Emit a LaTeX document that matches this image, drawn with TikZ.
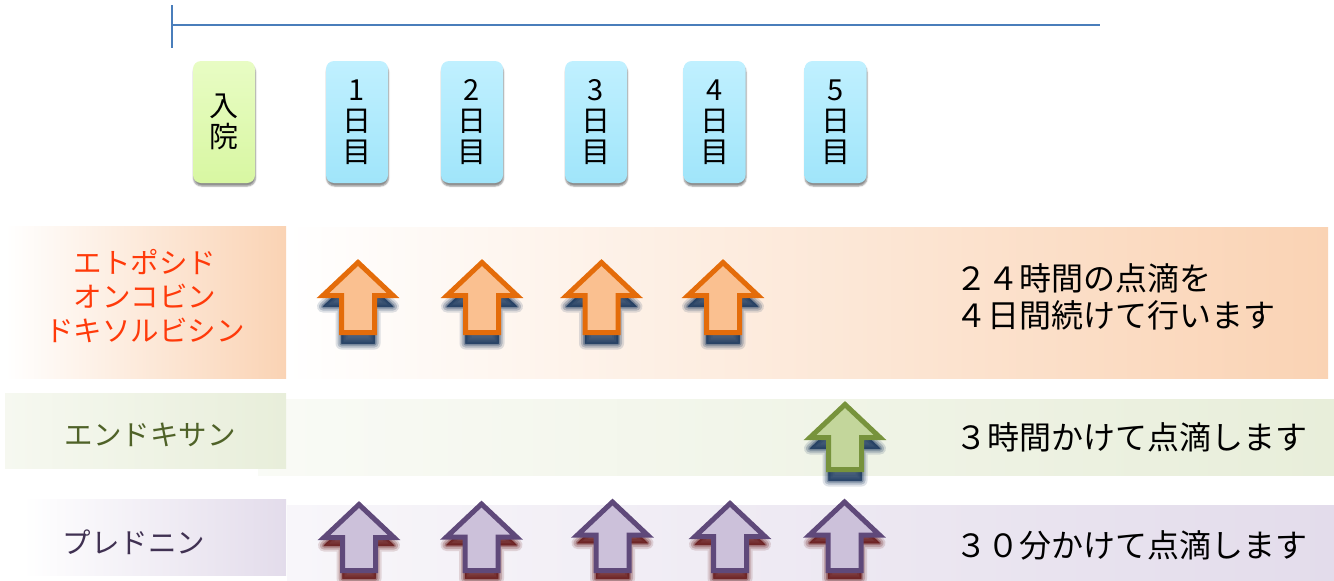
\documentclass[tikz,border=0pt]{standalone}
\usepackage{fontspec}
\setmainfont{Noto Sans CJK JP}
\usetikzlibrary{shadows.blur}
\definecolor{axisblue}{HTML}{4A7EBB}
\definecolor{orline}{HTML}{E46C0A}
\definecolor{orfill}{HTML}{FAC090}
\definecolor{grline}{HTML}{77933C}
\definecolor{grfill}{HTML}{C3D69B}
\definecolor{puline}{HTML}{5F497A}
\definecolor{pufill}{HTML}{CCC1DA}
\definecolor{navyshadow}{HTML}{15335A}
\definecolor{redshadow}{HTML}{641414}
\definecolor{orband}{HTML}{FAD3B4}
\definecolor{grband}{HTML}{E8EEDA}
\definecolor{puband}{HTML}{E3DCEB}
\definecolor{ortext}{HTML}{FF3A0A}
\definecolor{grtext}{HTML}{4F6228}
\definecolor{putext}{HTML}{403152}
\definecolor{boxgreenT}{HTML}{E8FCC4}
\definecolor{boxgreenB}{HTML}{D8F7A2}
\definecolor{boxblueT}{HTML}{C0F0FF}
\definecolor{boxblueB}{HTML}{A0E5FA}
% #1 x, #2 y of tip, #3 total length
\newcommand\arrshape[3]{(#1,#2) -- ++(35,33) -- ++(-18.5,0) -- ++(0,#3-33) -- ++(-33,0) -- ++(0,33-#3) -- ++(-18.5,0) -- cycle}
% #1 style, #2 shadow colour, #3 x, #4 y (tip), #5 shadow shift, #6 length
\newcommand\uparr[6]{%
  \foreach \w/\o in {12/0.14,8/0.22,4/0.32,1/0.5}{%
    \path[fill=#2, draw=#2, line width=\w pt, opacity=\o, line join=round] \arrshape{#3}{#4+#5}{#6};}%
  \draw[#1] \arrshape{#3}{#4}{#6};}
\tikzset{
  daybox/.style={rounded corners=8pt, minimum width=62pt, minimum height=122pt, inner sep=0pt, align=center,
    font=\fontsize{29}{31}\selectfont,
    blur shadow={shadow xshift=0.5pt, shadow yshift=-3pt, shadow blur radius=1.5pt, shadow opacity=45}},
  band/.style={anchor=north west, inner sep=0pt},
  lbl/.style={font=\fontsize{28.5}{34}\selectfont, align=center, inner sep=0pt},
  rtxt/.style={font=\fontsize{32}{36.5}\selectfont, align=left, anchor=west, inner sep=0pt},
  orarrow/.style={draw=orline, fill=orfill, line width=5pt, miter limit=10},
  grarrow/.style={draw=grline, fill=grfill, line width=5pt, miter limit=10},
  puarrow/.style={draw=puline, fill=pufill, line width=5pt, miter limit=10},
}
\begin{document}
\begin{tikzpicture}[x=1pt,y=-1pt]
\useasboundingbox (0,0) rectangle (1334,581);
% time axis
\coordinate (axL) at (172,25);
\coordinate (axR) at (1100,25);
\coordinate (tkT) at (172,5);
\coordinate (tkB) at (172,48);
\draw[axisblue, line width=2pt] (axL) -- (axR);
\draw[axisblue, line width=2pt] (tkT) -- (tkB);
% day boxes
\node[daybox, top color=boxgreenT, bottom color=boxgreenB] (d0) at (224,122) {入\\院};
\node[daybox, top color=boxblueT, bottom color=boxblueB] (d1) at (357,122) {1\\日\\目};
\node[daybox, top color=boxblueT, bottom color=boxblueB] (d2) at (472,122) {2\\日\\目};
\node[daybox, top color=boxblueT, bottom color=boxblueB] (d3) at (596,122) {3\\日\\目};
\node[daybox, top color=boxblueT, bottom color=boxblueB] (d4) at (714.5,122) {4\\日\\目};
\node[daybox, top color=boxblueT, bottom color=boxblueB] (d5) at (835.5,122) {5\\日\\目};
% orange band
\node[band, left color=white, right color=orband, minimum width=1042pt, minimum height=151pt] (ob) at (286,227) {};
\node[band, left color=white, right color=orband, minimum width=281pt, minimum height=152pt] (obl) at (5,226) {};
\node[lbl, text=ortext] (olab) at (145,296) {エトポシド\\オンコビン\\ドキソルビシン};
\node[rtxt] (otxt) at (955,297) {２４時間の点滴を\\４日間続けて行います};
% green band
\node[band, left color=white!75!grband, right color=grband, minimum width=1076pt, minimum height=76pt] (gb) at (258,399) {};
\node[band, left color=white!60!grband, right color=grband, minimum width=281pt, minimum height=75pt] (gbl) at (5,393) {};
\node[lbl, text=grtext] (glab) at (150,435) {エンドキサン};
\node[rtxt] (gtxt) at (955,437) {３時間かけて点滴します};
% purple band
\node[band, left color=white!75!puband, right color=puband, minimum width=1047pt, minimum height=76pt] (pb) at (287,505) {};
\node[band, left color=white, right color=puband, minimum width=263pt, minimum height=76pt] (pbl) at (23,499) {};
\node[lbl, text=putext] (plab) at (134,542) {プレドニン};
\node[rtxt] (ptxt) at (955,545) {３０分かけて点滴します};
% arrows
\uparr{orarrow}{navyshadow}{358}{262.5}{11}{70}
\uparr{orarrow}{navyshadow}{482}{262.5}{11}{70}
\uparr{orarrow}{navyshadow}{601.5}{262.5}{11}{70}
\uparr{orarrow}{navyshadow}{723}{262.5}{11}{70}
\uparr{grarrow}{navyshadow}{845}{404.5}{11}{65}
\uparr{puarrow}{redshadow}{359}{504.5}{8}{66}
\uparr{puarrow}{redshadow}{481.5}{504}{8}{66.5}
\uparr{puarrow}{redshadow}{612.5}{502}{8}{68.5}
\uparr{puarrow}{redshadow}{730}{503.5}{8}{67}
\uparr{puarrow}{redshadow}{844.5}{502}{8}{68.5}
\end{tikzpicture}
\end{document}
